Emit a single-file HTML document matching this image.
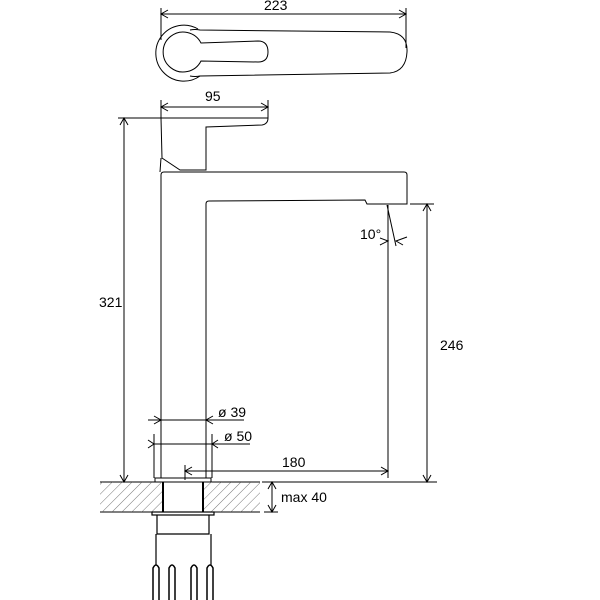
<!DOCTYPE html>
<html><head><style>body{margin:0;background:#fff}svg{display:block}text{font-family:"Liberation Sans",sans-serif;fill:#000}</style></head>
<body>
<svg width="600" height="600" viewBox="0 0 600 600" xmlns="http://www.w3.org/2000/svg">
<defs>
<pattern id="h" width="7" height="7" patternUnits="userSpaceOnUse" patternTransform="rotate(45)">
<line x1="0" y1="0" x2="0" y2="7" stroke="#555" stroke-width="0.8"/></pattern>
</defs>
<g fill="none" stroke="#000" stroke-width="1">
<!-- top view -->
<line x1="161" y1="14" x2="406" y2="14"/>
<line x1="161" y1="8" x2="161" y2="40"/><line x1="406" y1="8" x2="406" y2="48"/>
<path d="M168 10 L161 14 L168 18 M399 10 L406 14 L399 18"/>
<path d="M198 29 A28 28 0 1 0 200 76"/>
<path d="M190 30 Q195 29 200 30 L390 32 Q408 34 407 52 Q406 71 390 73 L200 76 Q195 77 190 76"/>
<path d="M201 43 A20 20 0 1 0 201 61 L258 62 Q268 62 268 52 Q268 41 258 41 Z"/>
<!-- 95 dim -->
<line x1="161" y1="107" x2="268" y2="107"/>
<line x1="161" y1="100" x2="161" y2="118"/><line x1="268" y1="100" x2="268" y2="118"/>
<path d="M168 103 L161 107 L168 111 M261 103 L268 107 L261 111"/>
<!-- lever -->
<path d="M161 118 L268 118 Q268 124 262 125 L206 127 L206 170 L180 170 L162 158 L161 118"/>
<path d="M161 158 L160 172"/>
<!-- body -->
<path d="M161 478 L161 175 Q161 172 164 172 L404 172 Q407 172 407 175 L407 204 L367 204 L365 200 L209 201 Q206 201 206 204 L206 478"/>
<!-- 321 -->
<line x1="124" y1="118" x2="124" y2="482"/>
<line x1="118" y1="118" x2="161" y2="118"/>
<path d="M120 125 L124 118 L128 125 M120 475 L124 482 L128 475"/>
<!-- 246 -->
<line x1="427" y1="204" x2="427" y2="482"/>
<line x1="410" y1="204" x2="434" y2="204"/>
<path d="M423 211 L427 204 L431 211 M423 475 L427 482 L431 475"/>
<!-- 10 deg -->
<line x1="388" y1="205" x2="388" y2="478"/>
<line x1="387" y1="205" x2="396" y2="246"/>
<path d="M380 238 L388 241 L380 245 M407 237 L396 241 L403 245"/>
<!-- dia dims -->
<line x1="148" y1="420" x2="244" y2="420"/>
<line x1="154" y1="444" x2="250" y2="444"/>
<line x1="154" y1="434" x2="154" y2="478"/><line x1="212" y1="434" x2="212" y2="478"/>
<path d="M154 416 L161 420 L154 424 M213 416 L206 420 L213 424 M148 440 L154 444 L148 448 M218 440 L212 444 L218 448"/>
<!-- 180 -->
<line x1="185" y1="471" x2="388" y2="471"/>
<line x1="185" y1="465" x2="185" y2="480"/>
<path d="M192 467 L185 471 L192 475 M381 467 L388 471 L381 475"/>
<!-- base -->
<rect x="155" y="478" width="56" height="4"/>
<line x1="262" y1="482" x2="437" y2="482"/>
<line x1="100" y1="482" x2="260" y2="482"/>
<line x1="100" y1="512" x2="260" y2="512"/>
<!-- max 40 -->
<line x1="272" y1="482" x2="272" y2="512"/>
<line x1="264" y1="512" x2="278" y2="512"/>
<path d="M268 489 L272 482 L276 489 M268 505 L272 512 L276 505"/>
</g>
<rect x="100" y="482" width="62" height="30" fill="url(#h)"/>
<rect x="204" y="482" width="56" height="30" fill="url(#h)"/>
<g fill="none" stroke="#000">
<line x1="163" y1="482" x2="163" y2="512" stroke-width="2"/>
<line x1="203" y1="482" x2="203" y2="512" stroke-width="2"/>
<rect x="152" y="512" width="62" height="3" stroke-width="1.2"/>
<path d="M157 515 L157 534 L209 534 L209 515" stroke-width="1.2"/>
<path d="M156 534 L156 565 M211 534 L211 565" stroke-width="1.2"/>
<path d="M153 600 L153 568 Q156 562 159 568 L159 600 M169 600 L169 568 Q172 562 175 568 L175 600 M191 600 L191 568 Q194 562 197 568 L197 600 M207 600 L207 568 Q210 562 213 568 L213 600" stroke-width="1.5"/>
</g>
<g font-size="14">
<text x="264" y="10">223</text>
<text x="205" y="101">95</text>
<text x="99" y="307">321</text>
<text x="440" y="350">246</text>
<text x="360" y="239">10°</text>
<text x="218" y="417">ø 39</text>
<text x="224" y="441">ø 50</text>
<text x="282" y="467">180</text>
<text x="281" y="502">max 40</text>
</g>
</svg>
</body></html>
